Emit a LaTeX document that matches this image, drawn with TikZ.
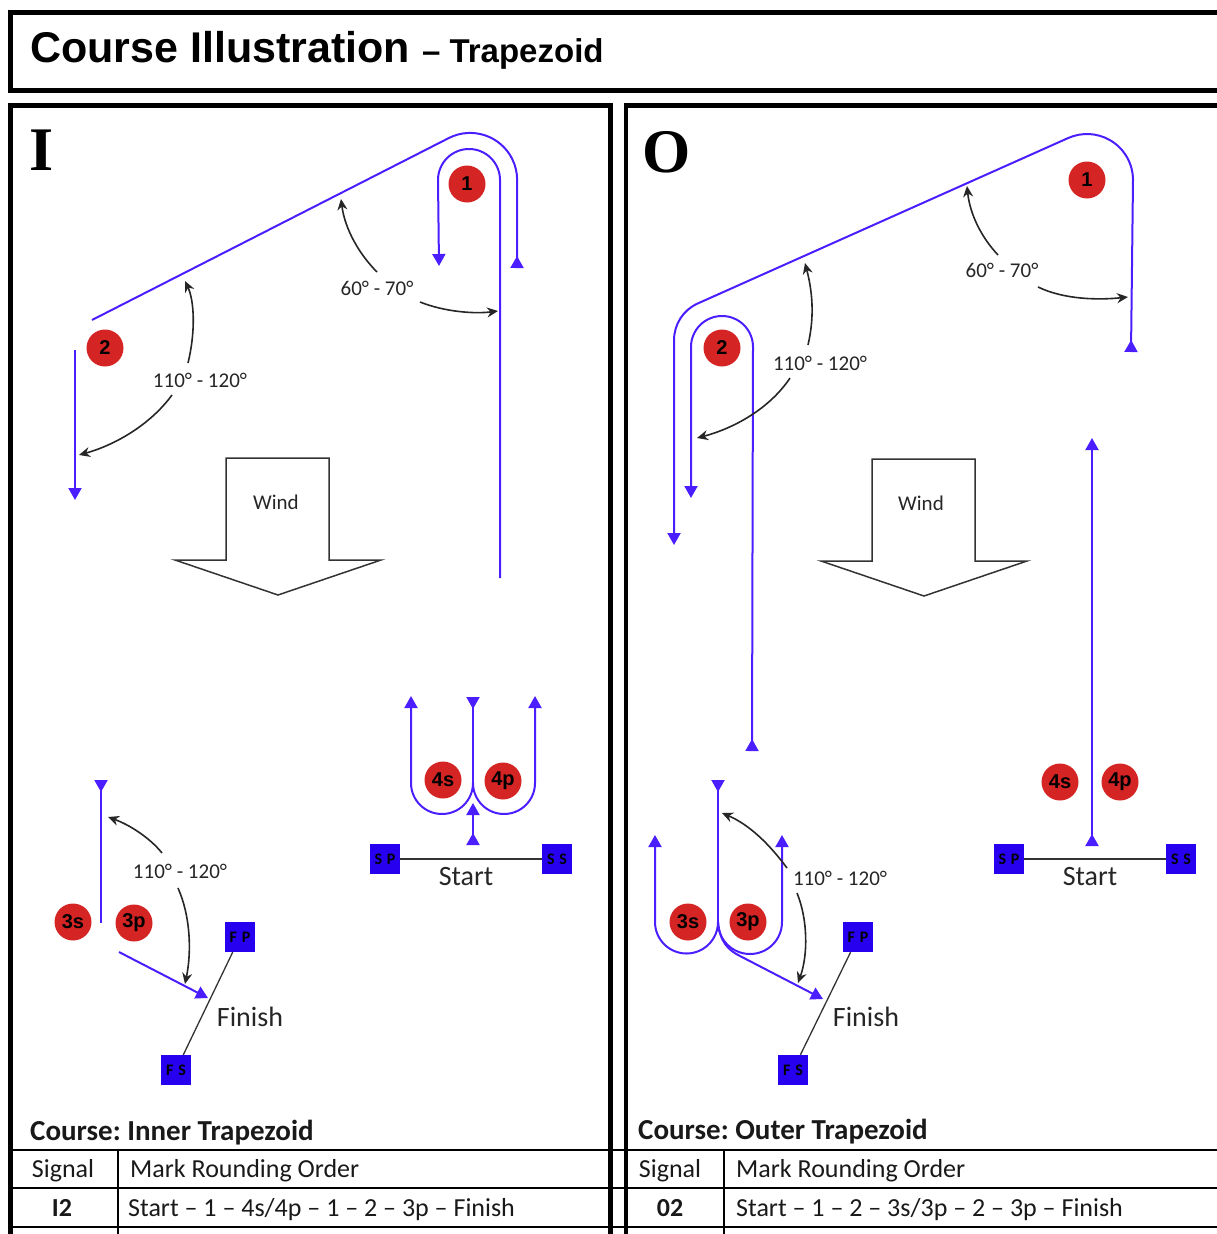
\documentclass[tikz,border=0pt]{standalone}
\usepackage{fontspec}
\setmainfont{Carlito}
\newfontfamily\arialf{Liberation Sans}
\newfontfamily\timesf{Liberation Serif}
\usetikzlibrary{arrows.meta}
\definecolor{cblue}{RGB}{75,30,255}
\definecolor{sqblue}{RGB}{40,0,240}
\definecolor{mred}{RGB}{212,36,36}
\newcommand{\myfs}[1]{\fontsize{#1}{#1}\selectfont}
\frenchspacing
\begin{document}
\begin{tikzpicture}[x=1pt,y=1pt,yscale=-1,
  course/.style={draw=cblue,line width=2pt},
  tri/.tip={Triangle[width=13pt,length=12pt]},
  rtri/.tip={Triangle[width=13pt,length=12pt,reversed]},
  ang/.style={draw=black!85,line width=1.6pt,-{Stealth[length=11pt,width=10pt]}},
  alabel/.style={font=\myfs{21},text=black!85,inner sep=0pt},
  buoy/.style={circle,fill=mred,minimum size=37pt,inner sep=0pt,font=\arialf\bfseries\myfs{20}},
  sq/.style={fill=sqblue,minimum size=30pt,inner sep=0pt,font=\bfseries\myfs{16}},
  frame/.style={draw=black,line width=4.5pt},
  tline/.style={draw=black,line width=2pt},
  wind/.style={draw=black!80,line width=1.5pt,line join=miter},
  big/.style={font=\myfs{28},text=black!85},
  ttext/.style={font=\myfs{26},text=black!90,anchor=base west,inner sep=0pt}]
\useasboundingbox (0,0) rectangle (1217,1234);

% frames
\draw[frame] (10.5,12.5) rectangle (1240,90.5);
\draw[frame] (10.5,1250) -- (10.5,105.5) -- (610.5,105.5) -- (610.5,1250);
\draw[frame] (626,1250) -- (626,105.5) -- (1240,105.5);

\node[anchor=base west,inner sep=0pt] (title) at (30,62)
  {\arialf\bfseries\myfs{43}Course Illustration\ {\myfs{33}– Trapezoid}};
\node[anchor=base west,inner sep=0pt,font=\timesf\bfseries\myfs{62}] (letI) at (29,170) {I};
\node[anchor=base west,inner sep=0pt,font=\timesf\bfseries\myfs{62}] (letO) at (642,172) {O};

% ---------------- LEFT PANEL ----------------
\draw[course,-{tri}] (500,578) -- (500,180) arc[start angle=0,end angle=-180,radius=31] -- (439,266);
\draw[course,-{rtri}] (92,320) -- (449.1,137.9) arc[start angle=243.4,end angle=360,radius=47] -- (517,268);
\draw[course,-{tri}] (75,350) -- (75,500);
% 4s/4p
\draw[course,{rtri}-] (473,697) -- (473,783);
\draw[course,-{tri}] (473,783) arc[start angle=0,end angle=180,radius=31] -- (411,696);
\draw[course,-{tri}] (473,783) arc[start angle=180,end angle=0,radius=31] -- (535,696);
\draw[course,{rtri}-{tri}] (473,845) -- (473,803);
% 3s/3p
\draw[course,{rtri}-] (101,780) -- (101,923);
\draw[course,-{tri}] (119,952) -- (208,998);

% angle arcs left
\draw[ang] (377,272) .. controls (360,255) and (345,230) .. (341,199);
\draw[ang] (420,302) .. controls (445,312) and (475,314) .. (498,311);
\draw[ang] (188,363) .. controls (196,330) and (194,300) .. (185,281);
\draw[ang] (172,395) .. controls (150,425) and (115,445) .. (79,455);
\draw[ang] (162,853) .. controls (150,838) and (130,825) .. (108,817);
\draw[ang] (178,888) .. controls (190,915) and (192,950) .. (185,984);
\node[alabel] (a1L) at (377,288) {60° - 70°};
\node[alabel] (a2L) at (200,380) {110° - 120°};
\node[alabel] (a3L) at (180,871) {110° - 120°};

% wind left
\draw[wind] (226,458) -- (329,458) -- (329,560) -- (381,560) -- (278,595) -- (175,560) -- (226,560) -- cycle;
\node[font=\myfs{21},text=black!85] (windL) at (276,502) {Wind};

% marks left
\node[buoy] (m1L) at (467,184) {1};
\node[buoy] (m2L) at (105,348) {2};
\node[buoy] (m4sL) at (443,780) {4s};
\node[buoy] (m4pL) at (503,781) {4p};
\node[buoy] (m3sL) at (73,922) {3s};
\node[buoy] (m3pL) at (134,923) {3p};

% start / finish left
\node[sq] (spL) at (385,859) {S\hspace{0.3em}P};
\node[sq] (ssL) at (557,859) {S\hspace{0.3em}S};
\draw[black!80,line width=1.3pt] (spL) -- (ssL);
\node[big,anchor=base] (stL) at (466,885) {Start};
\node[sq] (fpL) at (240,937) {F\hspace{0.3em}P};
\node[sq] (fsL) at (176,1070) {F\hspace{0.3em}S};
\draw[black!80,line width=1.3pt] (fpL) -- (fsL);
\node[big,anchor=base] (fiL) at (250,1026) {Finish};

% ---------------- RIGHT PANEL ----------------
\draw[course,{rtri}-{tri}] (1131,352) -- (1133,180) arc[start angle=0,end angle=-114.1,radius=46]
   -- (697.7,303.5) arc[start angle=-114.1,end angle=-180,radius=40] -- (674,545);
\draw[course,{rtri}-{tri}] (752,751) -- (753,347) arc[start angle=0,end angle=-180,radius=31] -- (691,498);
\draw[course,{rtri}-{tri}] (1092,846) -- (1092,438);
% 3s/3p right
\draw[course,{rtri}-] (718,780) -- (718,922);
\draw[course,-{tri}] (718,922) arc[start angle=0,end angle=180,radius=31.5] -- (655,835);
\draw[course,-{tri}] (718,922) arc[start angle=180,end angle=0,radius=32] -- (782,835);
\draw[course,-{tri}] (718,922) .. controls (720,942) and (728,950) .. (740,956) -- (823,999);

% angle arcs right
\draw[ang] (998,255) .. controls (982,238) and (970,215) .. (967,186);
\draw[ang] (1038,287) .. controls (1065,300) and (1100,300) .. (1128,297);
\draw[ang] (808,345) .. controls (815,315) and (812,290) .. (805,263);
\draw[ang] (790,378) .. controls (770,408) and (735,428) .. (697,438);
\draw[ang] (787,868) .. controls (770,845) and (750,825) .. (722,813);
\draw[ang] (797,893) .. controls (808,920) and (808,955) .. (798,983);
\node[alabel] (a1R) at (1002,270) {60° - 70°};
\node[alabel] (a2R) at (820,363) {110° - 120°};
\node[alabel] (a3R) at (840,878) {110° - 120°};

% wind right
\draw[wind] (872,459) -- (975,459) -- (975,561) -- (1027,561) -- (924,596) -- (821,561) -- (872,561) -- cycle;
\node[font=\myfs{21},text=black!85] (windR) at (921,503) {Wind};

% marks right
\node[buoy] (m1R) at (1087,180) {1};
\node[buoy] (m2R) at (722,348) {2};
\node[buoy] (m4sR) at (1060,782) {4s};
\node[buoy] (m4pR) at (1120,782) {4p};
\node[buoy] (m3sR) at (688,922) {3s};
\node[buoy] (m3pR) at (748,922) {3p};

% start / finish right
\node[sq] (spR) at (1009,859) {S\hspace{0.3em}P};
\node[sq] (ssR) at (1181,859) {S\hspace{0.3em}S};
\draw[black!80,line width=1.3pt] (spR) -- (ssR);
\node[big,anchor=base] (stR) at (1090,885) {Start};
\node[sq] (fpR) at (858,937) {F\hspace{0.3em}P};
\node[sq] (fsR) at (793,1070) {F\hspace{0.3em}S};
\draw[black!80,line width=1.3pt] (fpR) -- (fsR);
\node[big,anchor=base] (fiR) at (866,1026) {Finish};

% ---------------- TABLES ----------------
\draw[tline] (10,1150) -- (626,1150);
\draw[tline] (10,1188) -- (626,1188);
\draw[tline] (10,1227) -- (626,1227);
\draw[tline] (118,1150) -- (118,1240);
\draw[tline] (626,1150) -- (1217,1150);
\draw[tline] (626,1188) -- (1217,1188);
\draw[tline] (626,1227) -- (1217,1227);
\draw[tline] (724,1150) -- (724,1240);

\node[ttext,font=\bfseries\myfs{29}] (cL) at (30,1140) {Course: Inner Trapezoid};
\node[ttext,anchor=base] (sgL) at (63,1177) {Signal};
\node[ttext] (mrL) at (130,1177) {Mark Rounding Order};
\node[ttext,anchor=base,font=\bfseries\myfs{26}] (i2) at (62,1216) {I2};
\node[ttext] (orL) at (128,1216) {Start – 1 – 4s/4p – 1 – 2 – 3p – Finish};

\node[ttext,font=\bfseries\myfs{29}] (cR) at (638,1139) {Course: Outer Trapezoid};
\node[ttext,anchor=base] (sgR) at (670,1177) {Signal};
\node[ttext] (mrR) at (736,1177) {Mark Rounding Order};
\node[ttext,anchor=base,font=\bfseries\myfs{26}] (o2) at (670,1216) {02};
\node[ttext] (orR) at (736,1216) {Start – 1 – 2 – 3s/3p – 2 – 3p – Finish};
\end{tikzpicture}
\end{document}
